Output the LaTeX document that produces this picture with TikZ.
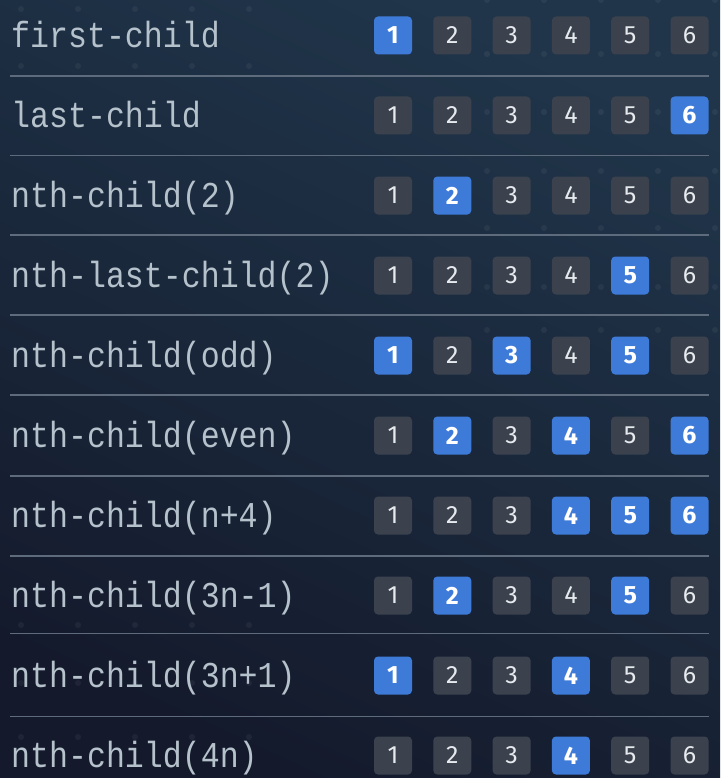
\documentclass[tikz,border=0pt]{standalone}
\usepackage{fontspec}
\newfontfamily\monof{Liberation Mono}
\newfontfamily\numf{Fira Sans}
\definecolor{bgA}{HTML}{20354A}
\definecolor{bgB}{HTML}{141A2C}
\definecolor{sep}{HTML}{5D6B7C}
\definecolor{boxoff}{HTML}{3B424D}
\definecolor{boxon}{HTML}{3E7BD9}
\definecolor{labc}{HTML}{B5C1CB}
\definecolor{numc}{HTML}{E6EAEE}
\tikzset{
  lab/.style={anchor=base west, inner sep=0pt, text=labc, yscale=1.15, font=\monof\fontsize{31.6}{31.6}\selectfont},
  celloff/.style={minimum width=38pt, minimum height=38pt, inner sep=0pt, rounded corners=4pt, fill=boxoff, text=numc, font=\numf\fontsize{25}{25}\selectfont},
  cellon/.style={celloff, fill=boxon, text=white, font=\numf\bfseries\fontsize{25}{25}\selectfont},
  sepline/.style={draw=sep, line width=1.8pt},
  bgdot/.style={fill=white, fill opacity=0.05, draw=none}
}
\begin{document}
\begin{tikzpicture}[x=1pt, y=-1pt]
\useasboundingbox (0,0) rectangle (720,778);
\shade[shading=axis, top color=bgA, bottom color=bgB, shading angle=-25] (0,0) rectangle (720,778);
% faint dots
\foreach \x in {21,78,135,192,249} \foreach \y in {9,66,625,683,737} \fill[bgdot] (\x,\y) circle (3pt);
\foreach \x in {487,544,601,658,715} \foreach \y in {0,54,112,171,228,287,330} \fill[bgdot] (\x,\y) circle (3pt);
% separators
\foreach \i/\ly in {1/76,2/155.5,3/235,4/315,5/395,6/476,7/556,8/633.5,9/716.5} {
  \coordinate (sl\i) at (10,\ly);
  \coordinate (sr\i) at (709,\ly);
  \draw[sepline] (sl\i) -- (sr\i);
}
% rows
\foreach \r/\txt/\hl in {
  1/first-child/{1},
  2/last-child/{6},
  3/nth-child(2)/{2},
  4/nth-last-child(2)/{5},
  5/nth-child(odd)/{1,3,5},
  6/nth-child(even)/{2,4,6},
  7/nth-child(n+4)/{4,5,6},
  8/nth-child(3n-1)/{2,5},
  9/nth-child(3n+1)/{1,4},
  10/nth-child(4n)/{4}} {
  \pgfmathsetmacro{\yc}{35.5+80*(\r-1)}
  \node[lab] (lab\r) at (11,\yc+12) {\txt};
  \foreach \c in {1,...,6} {
    \gdef\cst{celloff}
    \foreach \k in \hl {\ifnum\k=\c\relax\gdef\cst{cellon}\fi}
    \node[\cst] (c\r-\c) at ({393+59.3*(\c-1)},\yc) {\c};
  }
}
\end{tikzpicture}
\end{document}
